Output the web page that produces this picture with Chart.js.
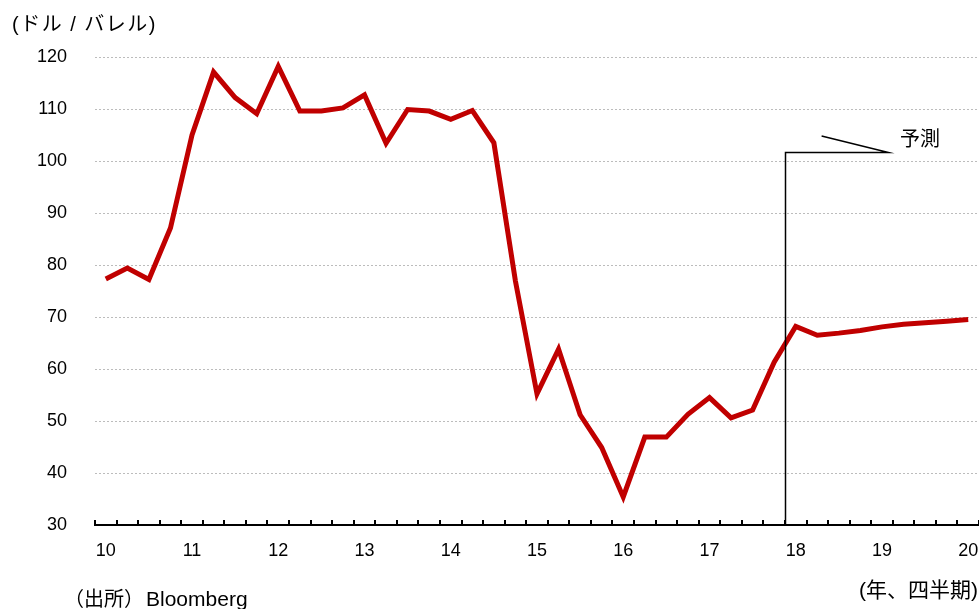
<!DOCTYPE html>
<html>
<head>
<meta charset="utf-8">
<script src="https://cdn.jsdelivr.net/npm/chart.js@4/dist/chart.umd.min.js"></script>
<style>
  body { margin: 0; background: #fff; }
</style>
</head>
<body>
<canvas id="oilChart" width="979" height="609"></canvas>
<script>
// Quarterly data, 2010Q1 - 2020Q1 (18Q1 onward is forecast)
const quarters = [
  '10Q1','10Q2','10Q3','10Q4','11Q1','11Q2','11Q3','11Q4',
  '12Q1','12Q2','12Q3','12Q4','13Q1','13Q2','13Q3','13Q4',
  '14Q1','14Q2','14Q3','14Q4','15Q1','15Q2','15Q3','15Q4',
  '16Q1','16Q2','16Q3','16Q4','17Q1','17Q2','17Q3','17Q4',
  '18Q1','18Q2','18Q3','18Q4','19Q1','19Q2','19Q3','19Q4','20Q1'
];
const prices = [
  77.3, 79.4, 77.2, 87.1, 105.0, 117.1, 112.2, 109.1,
  118.2, 109.6, 109.6, 110.2, 112.7, 103.4, 109.9, 109.6,
  108.0, 109.7, 103.5, 76.9, 55.2, 63.8, 51.2, 44.9,
  35.4, 46.9, 46.9, 51.3, 54.5, 50.6, 52.1, 61.3,
  68.2, 66.5, 66.9, 67.4, 68.1, 68.6, 68.9, 69.2, 69.5
];
const yTicks = [30, 40, 50, 60, 70, 80, 90, 100, 110, 120];
const forecastStart = '18Q1';

const FONT = '"Liberation Sans", "Noto Sans CJK JP", sans-serif';

// forecast marker, inward tick marks and text notes
const markers = {
  id: 'markers',
  afterDraw(chart) {
    const ctx = chart.ctx;
    const x = chart.scales.x, y = chart.scales.y;
    const bottom = chart.chartArea.bottom;
    ctx.save();
    ctx.strokeStyle = '#000';
    ctx.lineWidth = 2;
    ctx.beginPath();
    for (let i = 0; i <= quarters.length; i++) {
      const px = Math.round(x.getPixelForValue(i - 0.5));
      ctx.moveTo(px, bottom);
      ctx.lineTo(px, bottom - 5);
    }
    ctx.stroke();

    const idx = quarters.indexOf(forecastStart);
    const vx = Math.round(x.getPixelForValue(idx - 0.5)) + 0.5;
    const hy = Math.round(y.getPixelForValue(101.8)) + 0.5;
    const hx = x.getPixelForValue(36.3);
    ctx.lineWidth = 1.5;
    ctx.beginPath();
    ctx.moveTo(vx, bottom);
    ctx.lineTo(vx, hy);
    ctx.lineTo(hx, hy);
    ctx.lineTo(x.getPixelForValue(33.2), y.getPixelForValue(104.8));
    ctx.stroke();

    ctx.fillStyle = '#000';
    ctx.textBaseline = 'alphabetic';
    ctx.font = '20px ' + FONT;
    ctx.textAlign = 'left';
    ctx.fillText('予測', 900, 146);

    ctx.letterSpacing = '1.5px';
    ctx.fillText('(ドル / バレル)', 12, 31);
    ctx.letterSpacing = '0px';

    ctx.font = '21px ' + FONT;
    ctx.textAlign = 'right';
    ctx.fillText('(年、四半期)', 978, 597);

    ctx.textAlign = 'left';
    ctx.font = '20px ' + FONT;
    ctx.fillText('（出所）', 64, 606);
    ctx.font = '21px "Liberation Sans", sans-serif';
    ctx.fillText('Bloomberg', 146, 606);
    ctx.restore();
  }
};

new Chart(document.getElementById('oilChart'), {
  type: 'line',
  data: {
    labels: quarters,
    datasets: [{
      data: prices,
      borderColor: '#C00000',
      borderWidth: 5,
      pointRadius: 0,
      tension: 0,
      fill: false
    }]
  },
  options: {
    responsive: false,
    animation: false,
    layout: { padding: { top: 57, right: 0, left: 0, bottom: 0 } },
    plugins: { legend: { display: false }, tooltip: { enabled: false } },
    scales: {
      x: {
        offset: true,
        grid: { display: true, drawOnChartArea: false, drawTicks: false, offset: true },
        border: { display: true, color: '#000', width: 2 },
        ticks: {
          autoSkip: false,
          maxRotation: 0,
          padding: 15,
          color: '#000',
          font: { family: '"Liberation Sans", sans-serif', size: 18 },
          callback: (v, i) => quarters[i].endsWith('Q1') ? quarters[i].slice(0, 2) : ''
        },
        afterFit: (s) => { s.height = 84; s.paddingLeft = 0; s.paddingRight = 0; }
      },
      y: {
        min: 30,
        max: 120,
        afterBuildTicks: (s) => { s.ticks = yTicks.map(v => ({ value: v })); },
        grid: { color: '#bcbcbc', lineWidth: 1, drawTicks: false },
        border: { display: false, dash: [2, 2] },
        ticks: {
          padding: 28,
          color: '#000',
          font: { family: '"Liberation Sans", sans-serif', size: 18 }
        },
        afterFit: (s) => { s.width = 95; s.paddingTop = 0; s.paddingBottom = 0; }
      }
    }
  },
  plugins: [markers]
});
</script>
</body>
</html>
